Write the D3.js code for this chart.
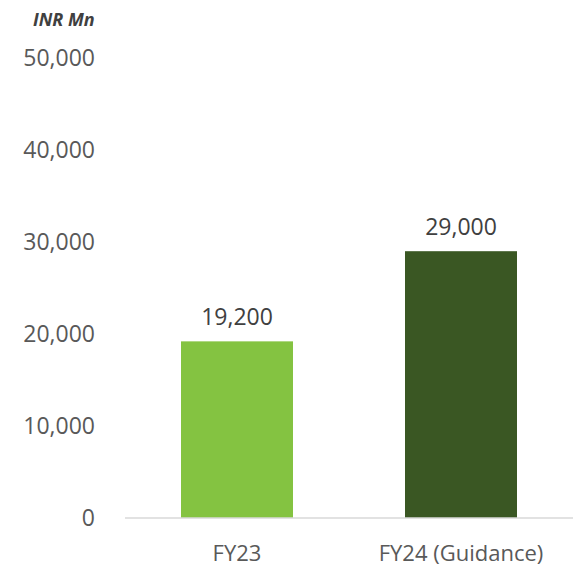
<!DOCTYPE html>
<html>
<head>
<meta charset="utf-8">
<script src="https://cdn.jsdelivr.net/npm/d3@7"></script>
<style>
  body { margin: 0; background: #fff; }
  text { font-family: "Open Sans", "Noto Sans", sans-serif; }
</style>
</head>
<body>
<div id="chart"></div>
<script>
var categories = ["FY23", "FY24 (Guidance)"];
var values = [19200, 29000];
var barColors = ["#84c341", "#3a5723"];
var yTicks = [0, 10000, 20000, 30000, 40000, 50000];

var width = 579, height = 568;
var margin = {top: 58, right: 6, bottom: 50, left: 125};

var svg = d3.select("#chart").append("svg")
    .attr("width", width)
    .attr("height", height);

var xScale = d3.scaleBand()
    .domain(categories)
    .range([margin.left, width - margin.right])
    .paddingInner(0.5)
    .paddingOuter(0.25);

var yScale = d3.scaleLinear()
    .domain([0, 50000])
    .range([height - margin.bottom, margin.top]);

var fmt = d3.format(",");

// y tick labels, no axis line
svg.append("g")
    .selectAll("text")
    .data(yTicks)
  .enter().append("text")
    .attr("x", 95)
    .attr("y", function(d) { return yScale(d); })
    .attr("dy", "0.35em")
    .attr("text-anchor", "end")
    .attr("fill", "#595959")
    .style("font-size", "23px")
    .text(function(d) { return fmt(d); });

svg.append("text")
    .attr("x", 33)
    .attr("y", 26)
    .attr("fill", "#404040")
    .style("font-size", "18px")
    .style("font-weight", "bold")
    .style("font-style", "italic")
    .text("INR Mn");

svg.selectAll(".bar")
    .data(values)
  .enter().append("rect")
    .attr("class", "bar")
    .attr("x", function(d, i) { return xScale(categories[i]); })
    .attr("width", xScale.bandwidth())
    .attr("y", function(d) { return yScale(d); })
    .attr("height", function(d) { return yScale(0) - yScale(d); })
    .attr("fill", function(d, i) { return barColors[i]; });

svg.selectAll(".val")
    .data(values)
  .enter().append("text")
    .attr("class", "val")
    .attr("x", function(d, i) { return xScale(categories[i]) + xScale.bandwidth() / 2; })
    .attr("y", function(d) { return yScale(d) - 16; })
    .attr("text-anchor", "middle")
    .attr("fill", "#404040")
    .style("font-size", "23px")
    .text(function(d) { return fmt(d); });

// baseline
svg.append("line")
    .attr("x1", margin.left)
    .attr("x2", width - margin.right)
    .attr("y1", yScale(0))
    .attr("y2", yScale(0))
    .attr("stroke", "#d9d9d9")
    .attr("stroke-width", 1.5);

var xAxis = d3.axisBottom(xScale).tickSize(0).tickPadding(27);
var gx = svg.append("g")
    .attr("transform", "translate(0," + yScale(0) + ")")
    .call(xAxis);
gx.select(".domain").remove();
gx.selectAll("text")
    .attr("fill", "#595959")
    .style("font-size", "22px")
    .style("font-family", "'Open Sans', 'Noto Sans', sans-serif");
</script>
</body>
</html>
